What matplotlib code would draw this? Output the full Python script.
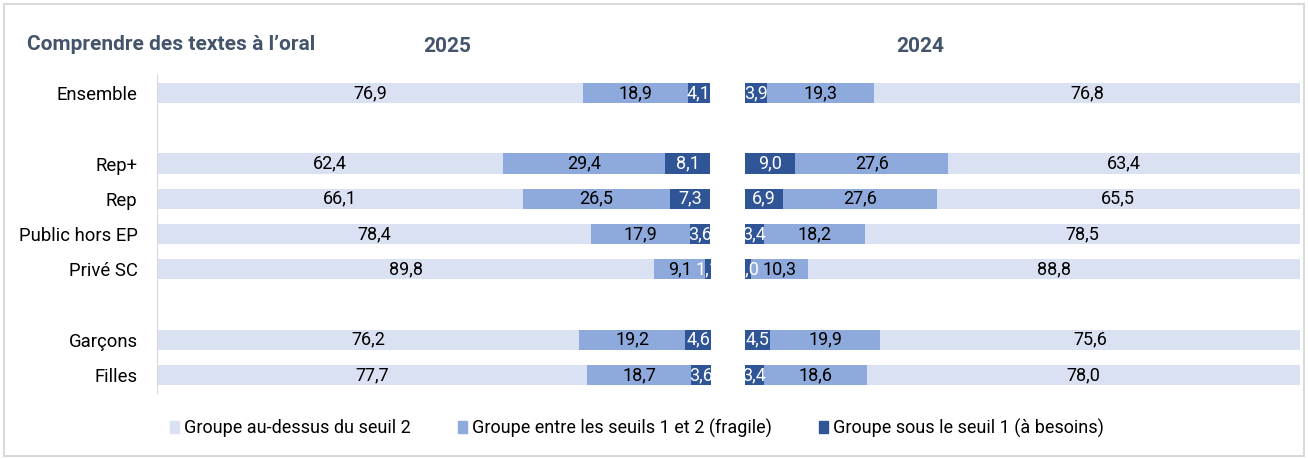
import matplotlib.pyplot as plt
from matplotlib.patches import Rectangle

plt.rcParams['font.family'] = ['Roboto', 'DejaVu Sans']

categories = ["Ensemble", "", "Rep+", "Rep", "Public hors EP", "Privé SC", "", "Garçons", "Filles"]

# 2025
above_2025 = [76.9, None, 62.4, 66.1, 78.4, 89.8, None, 76.2, 77.7]
fragile_2025 = [18.9, None, 29.4, 26.5, 17.9, 9.1, None, 19.2, 18.7]
below_2025 = [4.1, None, 8.1, 7.3, 3.6, 1.1, None, 4.6, 3.6]

# 2024
above_2024 = [76.8, None, 63.4, 65.5, 78.5, 88.8, None, 75.6, 78.0]
fragile_2024 = [19.3, None, 27.6, 27.6, 18.2, 10.3, None, 19.9, 18.6]
below_2024 = [3.9, None, 9.0, 6.9, 3.4, 1.0, None, 4.5, 3.4]

legend_labels = ["Groupe au-dessus du seuil 2",
                 "Groupe entre les seuils 1 et 2 (fragile)",
                 "Groupe sous le seuil 1 (à besoins)"]
c_light, c_mid, c_dark = "#D9E1F2", "#8EA9DB", "#2F5597"

fig = plt.figure(figsize=(13.08, 4.59), dpi=100)
fig.patches.append(Rectangle((0.003, 0.006), 0.994, 0.986, transform=fig.transFigure,
                             fill=False, edgecolor="#D9D9D9", lw=1.5))

ax1 = fig.add_axes([0.120, 0.1447, 0.4235, 0.691])
ax2 = fig.add_axes([0.5696, 0.1447, 0.4243, 0.691])


def draw_stack(ax, series):
    for i in range(len(categories)):
        if series[0][1][i] is None:
            continue
        left = 0
        for color, vals, tcol in series:
            v = vals[i]
            bars = ax.barh(i, v, left=left, height=0.57, color=color, edgecolor="none")
            t = ax.text(left + v / 2, i, f"{v:.1f}".replace(".", ","), ha="center", va="center",
                        fontsize=13, color=tcol)
            t.set_clip_path(bars.patches[0])
            left += v


draw_stack(ax1, [(c_light, above_2025, "black"), (c_mid, fragile_2025, "black"),
                 (c_dark, below_2025, "white")])
draw_stack(ax2, [(c_dark, below_2024, "white"), (c_mid, fragile_2024, "black"),
                 (c_light, above_2024, "black")])

for ax in (ax1, ax2):
    ax.set_xlim(0, 100)
    ax.set_ylim(8.5, -0.5)
    ax.set_xticks([])
    for s in ax.spines.values():
        s.set_visible(False)
    ax.set_facecolor("none")

ax1.spines["left"].set_visible(True)
ax1.spines["left"].set_color("#D9D9D9")
ax1.set_yticks(range(len(categories)))
ax1.set_yticklabels(categories, fontsize=13.3)
ax1.tick_params(axis="y", length=0, pad=14)
ax2.set_yticks([])

fig.text(27 / 1308, 1 - 45 / 459, "Comprendre des textes à l’oral", fontsize=15, fontweight="bold",
         color="#44546A", va="center", ha="left")
fig.text(447 / 1308, 1 - 46 / 459, "2025", fontsize=15, fontweight="bold", color="#44546A",
         va="center", ha="center")
fig.text(920 / 1308, 1 - 46 / 459, "2024", fontsize=15, fontweight="bold", color="#44546A",
         va="center", ha="center")

handles = [Rectangle((0, 0), 1, 1, color=c) for c in (c_light, c_mid, c_dark)]
fig.legend(handles, legend_labels, loc="center", bbox_to_anchor=(0.487, 1 - 428 / 459), ncol=3,
           frameon=False, fontsize=13, handlelength=0.5, handleheight=0.6, handletextpad=0.3,
           columnspacing=2.6)

fig.savefig("out.png", dpi=100)
